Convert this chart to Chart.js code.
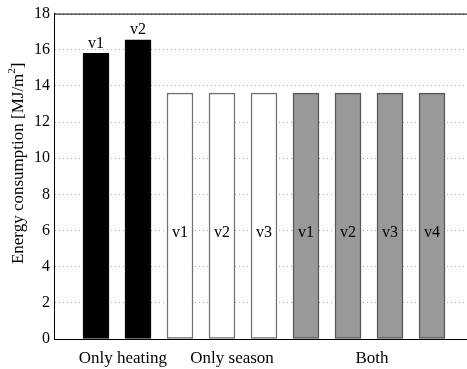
<!DOCTYPE html>
<html>
<head>
<meta charset="utf-8">
<script src="https://cdn.jsdelivr.net/npm/chart.js@4"></script>
<style>
  html, body { margin: 0; padding: 0; background: #fff; overflow: hidden; }
  #wrap { width: 480px; height: 369px; }
</style>
</head>
<body>
<div id="wrap"><canvas id="grafico" width="480" height="369"></canvas></div>
<script>
// posições das barras (1..9) e valores
const posicoes = [1, 2, 3, 4, 5, 6, 7, 8, 9];
const valores = [15.8, 16.55, 13.6, 13.6, 13.6, 13.6, 13.6, 13.6, 13.6];
const rotulosBarra = ['v1', 'v2', 'v1', 'v2', 'v3', 'v1', 'v2', 'v3', 'v4'];
const grupos = ['Only heating', 'Only season', 'Both'];
const posGrupos = [1.64, 4.24, 7.57];
const ticksY = [0, 2, 4, 6, 8, 10, 12, 14, 16, 18];

const cores = ['#000000', '#000000', '#ffffff', '#ffffff', '#ffffff', '#999999', '#999999', '#999999', '#999999'];
const bordas = ['#000000', '#000000', '#707070', '#707070', '#707070', '#555555', '#555555', '#555555', '#555555'];

const fonte = '"Liberation Serif", "Times New Roman", serif';

const extras = {
  id: 'extras',
  afterDatasetsDraw(chart) {
    const { ctx, chartArea, scales } = chart;
    const x = scales.x, y = scales.y;
    ctx.save();
    // borda superior e esquerda
    ctx.strokeStyle = '#000';
    ctx.lineWidth = 1;
    ctx.beginPath();
    ctx.moveTo(chartArea.left, chartArea.top + 0.5);
    ctx.lineTo(chartArea.right, chartArea.top + 0.5);
    ctx.moveTo(chartArea.left + 0.5, chartArea.top);
    ctx.lineTo(chartArea.left + 0.5, chartArea.bottom);
    ctx.stroke();

    // rótulos das barras
    ctx.font = '16px ' + fonte;
    ctx.fillStyle = '#000';
    ctx.textAlign = 'center';
    ctx.textBaseline = 'middle';
    posicoes.forEach((p, i) => {
      const yy = i < 2 ? y.getPixelForValue(valores[i]) - 10 : y.getPixelForValue(5.85);
      ctx.fillText(rotulosBarra[i], x.getPixelForValue(p), yy);
    });

    // rótulos dos grupos
    ctx.font = '17px ' + fonte;
    grupos.forEach((g, i) => {
      ctx.fillText(g, x.getPixelForValue(posGrupos[i]), chartArea.bottom + 20);
    });

    // título do eixo y
    ctx.translate(19, (chartArea.top + chartArea.bottom) / 2 - 13);
    ctx.rotate(-Math.PI / 2);
    ctx.font = '17px ' + fonte;
    const t1 = 'Energy consumption [MJ/m';
    const w1 = ctx.measureText(t1).width;
    ctx.font = '11px ' + fonte;
    const w2 = ctx.measureText('2').width;
    ctx.font = '17px ' + fonte;
    const w3 = ctx.measureText(']').width;
    let sx = -(w1 + w2 + w3) / 2;
    ctx.textAlign = 'left';
    ctx.fillText(t1, sx, 0);
    ctx.font = '11px ' + fonte;
    ctx.fillText('2', sx + w1, -7);
    ctx.font = '17px ' + fonte;
    ctx.fillText(']', sx + w1 + w2, 0);
    ctx.restore();
  }
};

new Chart(document.getElementById('grafico').getContext('2d'), {
  type: 'bar',
  data: {
    datasets: [{
      data: posicoes.map((p, i) => ({ x: p, y: valores[i] })),
      backgroundColor: cores,
      borderColor: bordas,
      borderWidth: 1.5,
      borderSkipped: false,
      barThickness: 26
    }]
  },
  options: {
    responsive: false,
    animation: false,
    layout: { padding: { top: 8, right: 6, left: 0, bottom: 0 } },
    plugins: { legend: { display: false }, tooltip: { enabled: false } },
    scales: {
      x: {
        type: 'linear',
        min: 0,
        max: 10,
        offset: false,
        grid: { display: false, drawTicks: false },
        border: { color: '#000', width: 1 },
        ticks: { display: false },
        afterFit: s => { s.height = 30; }
      },
      y: {
        min: 0,
        max: 18,
        afterBuildTicks: s => { s.ticks = ticksY.map(v => ({ value: v })); },
        grid: { color: '#aaaaaa', lineWidth: 1, drawTicks: false },
        border: { color: '#000', width: 1, dash: [1, 3] },
        ticks: { color: '#000', font: { family: fonte, size: 16 }, padding: 4 },
        afterFit: s => { s.width = 54; }
      }
    }
  },
  plugins: [extras]
});
</script>
</body>
</html>
